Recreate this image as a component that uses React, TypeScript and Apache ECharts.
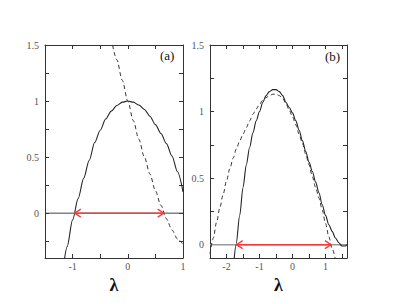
import React, { useEffect, useRef } from "react";
import * as echarts from "echarts";

// Panel (a)
const solidAX = [-1.15, -1.1, -1.0, -0.9, -0.8, -0.7, -0.6, -0.5, -0.4, -0.3, -0.2, -0.1, 0, 0.1, 0.2, 0.3, 0.4, 0.5, 0.6, 0.7, 0.8, 0.9, 1.0];
const solidAY = [-0.42, -0.3, -0.06, 0.13, 0.31, 0.47, 0.63, 0.74, 0.84, 0.91, 0.96, 0.99, 1.0, 0.99, 0.965, 0.925, 0.865, 0.79, 0.71, 0.62, 0.51, 0.37, 0.19];
const dashAX = [-0.3, -0.2, -0.1, 0, 0.1, 0.2, 0.3, 0.4, 0.5, 0.6, 0.7, 0.8, 0.9, 1.0];
const dashAY = [1.56, 1.37, 1.185, 1.0, 0.825, 0.66, 0.5, 0.35, 0.2, 0.07, -0.05, -0.15, -0.23, -0.28];
const arrowA = [-0.97, 0.66];

// Panel (b)
const solidBX = [-1.77, -1.71, -1.6, -1.5, -1.4, -1.3, -1.2, -1.1, -1.0, -0.9, -0.8, -0.7, -0.6, -0.5, -0.4, -0.3, -0.2, -0.1, 0, 0.1, 0.2, 0.3, 0.4, 0.5, 0.6, 0.7, 0.8, 0.9, 1.0, 1.1, 1.2, 1.3, 1.4, 1.5, 1.6, 1.65];
const solidBY = [-0.11, 0, 0.22, 0.43, 0.6, 0.73, 0.84, 0.93, 1.0, 1.07, 1.12, 1.15, 1.165, 1.165, 1.15, 1.12, 1.07, 1.03, 0.99, 0.93, 0.86, 0.78, 0.7, 0.62, 0.55, 0.47, 0.39, 0.3, 0.22, 0.15, 0.1, 0.05, 0.015, -0.01, -0.01, 0];
const dashBX = [-2.5, -2.4, -2.3, -2.2, -2.1, -2.0, -1.9, -1.8, -1.7, -1.6, -1.5, -1.4, -1.3, -1.2, -1.1, -1.0, -0.9, -0.8, -0.7, -0.6, -0.5, -0.4, -0.3, -0.2, -0.1, 0, 0.1, 0.2, 0.3, 0.4, 0.5, 0.6, 0.7, 0.8, 0.9, 1.0, 1.1, 1.2, 1.3];
const dashBY = [-0.07, 0.05, 0.17, 0.28, 0.38, 0.48, 0.57, 0.65, 0.72, 0.78, 0.83, 0.88, 0.93, 0.98, 1.02, 1.055, 1.085, 1.105, 1.12, 1.13, 1.13, 1.12, 1.1, 1.06, 1.01, 0.96, 0.9, 0.83, 0.76, 0.68, 0.6, 0.51, 0.43, 0.35, 0.26, 0.16, 0.06, -0.03, -0.11];
const arrowB = [-1.71, 1.18];

// Axes / ticks
const xTicksA = [-1, -0.5, 0, 0.5];
const xLabelsA = [-1, 0, 1];
const yTicksA = [-0.25, 0, 0.25, 0.5, 0.75, 1, 1.25];
const yLabelsA = [0, 0.5, 1, 1.5];
const xTicksB = [-2, -1.5, -1, -0.5, 0, 0.5, 1, 1.5];
const xLabelsB = [-2, -1, 0, 1];
const yTicksB = [0, 0.25, 0.5, 0.75, 1, 1.25];
const yLabelsB = [0, 0.5, 1, 1.5];

const zip = (xs: number[], ys: number[]) => xs.map((x, i) => [x, ys[i]]);

const FRAME = "#333";
const SERIF = "Liberation Serif";
const RED = "#f43a3a";

function xAxisPair(grid: number, min: number, max: number, ticks: number[], labels: number[]) {
  const common = {
    type: "value",
    gridIndex: grid,
    min,
    max,
    splitLine: { show: false },
    axisLine: { show: true, onZero: false, lineStyle: { color: FRAME, width: 1 } },
    axisTick: { show: true, inside: true, length: 4, customValues: ticks, lineStyle: { color: FRAME } },
  };
  return [
    {
      ...common,
      position: "bottom",
      axisLabel: { show: true, customValues: labels, margin: 3, fontSize: 10, fontFamily: SERIF, color: "#555" },
      name: "λ",
      nameLocation: "middle",
      nameGap: 7,
      nameTextStyle: { fontSize: 18, fontFamily: SERIF, color: "#111", fontWeight: "bold" },
    },
    { ...common, position: "top", axisLabel: { show: false } },
  ];
}

function yAxisPair(grid: number, min: number, max: number, ticks: number[], labels: number[]) {
  const common = {
    type: "value",
    gridIndex: grid,
    min,
    max,
    splitLine: { show: false },
    axisLine: { show: true, onZero: false, lineStyle: { color: FRAME, width: 1 } },
    axisTick: { show: true, inside: true, length: 4, customValues: ticks, lineStyle: { color: FRAME } },
  };
  return [
    {
      ...common,
      position: "left",
      axisLabel: { show: true, customValues: labels, margin: 6, fontSize: 10, fontFamily: SERIF, color: "#555" },
    },
    { ...common, position: "right", axisLabel: { show: false } },
  ];
}

function arrowSeries(xi: number, yi: number, ends: number[]) {
  return {
    type: "line",
    xAxisIndex: xi,
    yAxisIndex: yi,
    silent: true,
    lineStyle: { color: RED, width: 1.4 },
    itemStyle: { color: "none", borderColor: RED, borderWidth: 1.4 },
    symbolKeepAspect: true,
    data: [
      { value: [ends[0], 0], symbol: "path://M7,0 L0,4 L7,8", symbolSize: [7, 8], symbolOffset: [3.5, 0] },
      { value: [ends[1], 0], symbol: "path://M0,0 L7,4 L0,8", symbolSize: [7, 8], symbolOffset: [-3.5, 0] },
    ],
    z: 5,
  };
}

function curve(xi: number, yi: number, xs: number[], ys: number[], dashed: boolean) {
  return {
    type: "line",
    xAxisIndex: xi,
    yAxisIndex: yi,
    symbol: "none",
    silent: true,
    smooth: 0.3,
    smoothMonotone: "x",
    lineStyle: dashed ? { color: "#333", width: 1, type: [4, 3] } : { color: "#222", width: 1.1 },
    data: zip(xs, ys),
  };
}

export default function App() {
  const ref = useRef<HTMLDivElement>(null);
  useEffect(() => {
    if (!ref.current) return;
    const chart = echarts.init(ref.current, null, { renderer: "svg" });
    const xa = xAxisPair(0, -1.5, 1, xTicksA, xLabelsA);
    const xb = xAxisPair(1, -2.5, 1.65, xTicksB, xLabelsB);
    const ya = yAxisPair(0, -0.4, 1.5, yTicksA, yLabelsA);
    const yb = yAxisPair(1, -0.1, 1.5, yTicksB, yLabelsB);
    chart.setOption({
      animation: false,
      backgroundColor: "#fff",
      grid: [
        { left: 45, top: 45, width: 138, height: 213 },
        { left: 210, top: 45, width: 137, height: 213 },
      ],
      xAxis: [...xa, ...xb],
      yAxis: [...ya, ...yb],
      graphic: [
        { type: "text", left: 160, top: 49, style: { text: "(a)", fontSize: 13, fontFamily: SERIF, fill: "#111" } },
        { type: "text", left: 325, top: 50, style: { text: "(b)", fontSize: 13, fontFamily: SERIF, fill: "#111" } },
      ],
      series: [
        {
          type: "line", xAxisIndex: 0, yAxisIndex: 0, symbol: "none", silent: true,
          lineStyle: { color: "#444", width: 1 },
          data: [[-1.5, 0], [1, 0]],
        },
        curve(0, 0, solidAX, solidAY, false),
        curve(0, 0, dashAX, dashAY, true),
        arrowSeries(0, 0, arrowA),
        {
          type: "line", xAxisIndex: 2, yAxisIndex: 2, symbol: "none", silent: true,
          lineStyle: { color: "#999", width: 1.5 },
          data: [[-2.5, 0], [1.65, 0]],
        },
        curve(2, 2, solidBX, solidBY, false),
        curve(2, 2, dashBX, dashBY, true),
        arrowSeries(2, 2, arrowB),
      ],
    });
    return () => chart.dispose();
  }, []);
  return (
    <div
      ref={ref}
      style={{ position: "absolute", left: 0, top: 0, width: 393, height: 304, background: "#fff" }}
    />
  );
}
